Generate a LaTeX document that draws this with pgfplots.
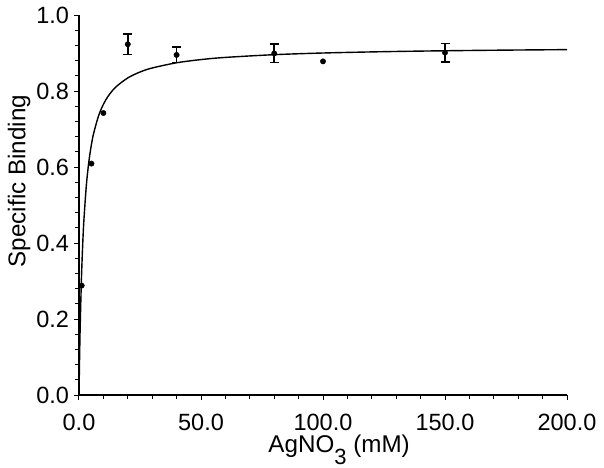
\documentclass[border=0pt]{standalone}
\usepackage{pgfplots}
\pgfplotsset{compat=1.18}
\usepackage{fontspec}
\setmainfont{Liberation Sans}
\begin{document}
\begin{tikzpicture}
\begin{axis}[
  scale only axis,
  width=488pt, height=380pt,
  xmin=0, xmax=200, ymin=0, ymax=1.0,
  axis lines=left,
  axis line style={-, line width=1.2pt},
  tick align=outside,
  major tick length=4.5pt,
  minor tick length=3.5pt,
  every tick/.style={line width=1pt, black},
  xtick={0,50,100,150,200},
  ytick={0,0.2,0.4,0.6,0.8,1.0},
  minor x tick num=4,
  minor y tick num=4,
  /pgf/number format/assume math mode=true,
  xticklabel style={yshift=-11pt, /pgf/number format/.cd, fixed, fixed zerofill, precision=1},
  yticklabel style={xshift=-2pt, /pgf/number format/.cd, fixed, fixed zerofill, precision=1},
  tick label style={font=\fontsize{23.5}{27}\selectfont},
  label style={font=\fontsize{24.2}{28}\selectfont},
  xlabel={AgNO\raisebox{-0.5em}{\fontsize{22}{22}\selectfont 3} (mM)},
  ylabel={Specific Binding},
  xlabel style={at={(ticklabel cs:0.533)}, inner sep=0pt, yshift=-1pt},
  ylabel style={at={(ticklabel cs:0.563)}, yshift=-1pt},
  clip=false,
]
\coordinate (O) at (rel axis cs:0,0);
\addplot[black, line width=1.4pt, smooth] coordinates {
(0,0) (0.25,0.102) (0.5,0.1836) (1,0.306) (1.5,0.3934) (2,0.459) (3,0.5508)
(4,0.612) (5,0.6557) (6,0.6885) (8,0.7344) (10,0.765) (12,0.7869) (15,0.81)
(20,0.8345) (25,0.85) (30,0.8606) (40,0.8743) (50,0.8827) (60,0.8884)
(80,0.8956) (100,0.9) (125,0.9035) (150,0.9059) (175,0.9076) (200,0.9089)
};
\addplot[black, only marks, mark=*, mark size=2.7pt] coordinates {
(1.1,0.288) (5.1,0.609) (10,0.742) (100,0.878)
};
\addplot[black, only marks, mark=*, mark size=2.7pt,
  error bars/.cd, y dir=both, y explicit,
  error bar style={line width=1.7pt},
  error mark options={rotate=90, mark size=4.5pt, line width=1.7pt}]
  coordinates {
(20,0.923) +- (0,0.027)
(40,0.895) +- (0,0.02)
(80,0.899) +- (0,0.024)
(150,0.901) +- (0,0.024)
};
\end{axis}
\pgfresetboundingbox
\path[use as bounding box] ([xshift=-79pt, yshift=-72pt]O) rectangle ([xshift=525pt, yshift=395pt]O);
\end{tikzpicture}
\end{document}
